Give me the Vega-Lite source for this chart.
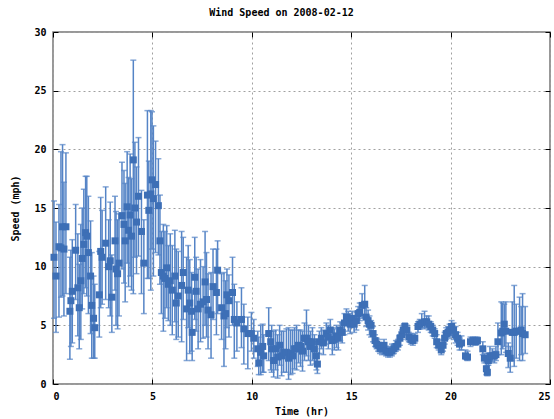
{
  "$schema": "https://vega.github.io/schema/vega-lite/v6.json",
  "width": 497,
  "height": 352,
  "autosize": {"type": "none"},
  "padding": {"left": 53, "top": 32, "right": 4, "bottom": 35},
  "background": "white",
  "title": {
    "text": "Wind Speed on 2008-02-12",
    "font": "DejaVu Sans Mono",
    "fontSize": 10,
    "fontWeight": "bold",
    "color": "#000000",
    "anchor": "middle",
    "dx": -20,
    "offset": 9
  },
  "config": {
    "view": {"stroke": "#777777", "strokeWidth": 1.5},
    "axis": {
      "labelFont": "DejaVu Sans Mono",
      "labelFontSize": 10,
      "labelFontWeight": "bold",
      "labelColor": "#000000",
      "titleFont": "DejaVu Sans Mono",
      "titleFontSize": 10,
      "titleFontWeight": "bold",
      "titleColor": "#000000",
      "domain": false,
      "tickColor": "#000000",
      "tickSize": -5,
      "tickWidth": 1,
      "gridColor": "#a0a0a0",
      "gridDash": [2, 3],
      "gridWidth": 1,
      "gridOpacity": 1
    }
  },
  "data": {
    "values": [
      {"t": 0.05, "v": 10.8, "lo": 5.6, "hi": 15.6},
      {"t": 0.15, "v": 9.2, "lo": 4.4, "hi": 13.8},
      {"t": 0.3, "v": 11.7, "lo": 5.7, "hi": 15.3},
      {"t": 0.4, "v": 11.6, "lo": 7.4, "hi": 19.8},
      {"t": 0.48, "v": 13.4, "lo": 7.5, "hi": 20.4},
      {"t": 0.55, "v": 11.5, "lo": 5.8, "hi": 17.2},
      {"t": 0.65, "v": 13.4, "lo": 7.7, "hi": 19.7},
      {"t": 0.85, "v": 6.2, "lo": 2.1, "hi": 10.8},
      {"t": 0.9, "v": 7.1, "lo": 3.2, "hi": 11.4},
      {"t": 0.97, "v": 7.9, "lo": 3.5, "hi": 12.3},
      {"t": 1.14, "v": 11.4, "lo": 7.2, "hi": 15.3},
      {"t": 1.25, "v": 8.2, "lo": 4.1, "hi": 12.8},
      {"t": 1.32, "v": 6.5, "lo": 3.0, "hi": 10.2},
      {"t": 1.4, "v": 8.8, "lo": 3.8, "hi": 13.6},
      {"t": 1.47, "v": 10.7, "lo": 6.4, "hi": 15.0},
      {"t": 1.55, "v": 11.9, "lo": 7.7, "hi": 16.6},
      {"t": 1.64, "v": 12.9, "lo": 8.2, "hi": 17.7},
      {"t": 1.7, "v": 12.6, "lo": 7.5, "hi": 17.7},
      {"t": 1.78, "v": 11.2, "lo": 6.0, "hi": 16.0},
      {"t": 1.89, "v": 9.2, "lo": 4.3, "hi": 13.9},
      {"t": 1.95, "v": 6.7, "lo": 2.2, "hi": 11.2},
      {"t": 2.04, "v": 5.6, "lo": 2.2, "hi": 9.2},
      {"t": 2.1, "v": 4.8, "lo": 2.2, "hi": 8.5},
      {"t": 2.33, "v": 7.6, "lo": 4.0, "hi": 11.3},
      {"t": 2.4, "v": 11.3, "lo": 6.5, "hi": 15.9},
      {"t": 2.47, "v": 10.8, "lo": 6.8, "hi": 14.8},
      {"t": 2.65, "v": 12.0, "lo": 7.2, "hi": 16.8},
      {"t": 2.8, "v": 10.0, "lo": 6.5, "hi": 14.0},
      {"t": 2.88, "v": 10.5, "lo": 5.8, "hi": 15.5},
      {"t": 2.96, "v": 7.4, "lo": 4.4, "hi": 11.0},
      {"t": 3.12, "v": 12.2, "lo": 8.0, "hi": 16.0},
      {"t": 3.17, "v": 9.8, "lo": 5.0, "hi": 14.7},
      {"t": 3.25, "v": 9.4, "lo": 4.7, "hi": 14.0},
      {"t": 3.32, "v": 10.3, "lo": 5.8, "hi": 14.5},
      {"t": 3.47, "v": 14.35, "lo": 9.8, "hi": 18.9},
      {"t": 3.57, "v": 13.6, "lo": 8.6, "hi": 18.2},
      {"t": 3.63, "v": 12.2, "lo": 7.0, "hi": 17.1},
      {"t": 3.73, "v": 15.1, "lo": 10.3, "hi": 19.8},
      {"t": 3.8, "v": 13.1, "lo": 8.3, "hi": 17.6},
      {"t": 3.88, "v": 14.4, "lo": 9.2, "hi": 19.6},
      {"t": 3.95, "v": 12.6, "lo": 8.0, "hi": 17.5},
      {"t": 4.04, "v": 19.1, "lo": 7.7, "hi": 27.6},
      {"t": 4.12, "v": 15.0, "lo": 10.8, "hi": 20.6},
      {"t": 4.2, "v": 13.8, "lo": 9.4, "hi": 18.5},
      {"t": 4.3, "v": 16.0, "lo": 10.9, "hi": 21.0},
      {"t": 4.45, "v": 13.0, "lo": 7.7, "hi": 16.5},
      {"t": 4.57, "v": 10.3, "lo": 6.0, "hi": 14.0},
      {"t": 4.75, "v": 16.1, "lo": 9.0, "hi": 23.3},
      {"t": 4.82, "v": 14.8, "lo": 9.0, "hi": 19.0},
      {"t": 4.92, "v": 16.2, "lo": 8.0, "hi": 23.3},
      {"t": 4.98, "v": 17.4, "lo": 11.5, "hi": 23.2},
      {"t": 5.05, "v": 15.8, "lo": 9.2, "hi": 22.0},
      {"t": 5.16, "v": 17.0, "lo": 11.2, "hi": 20.7},
      {"t": 5.3, "v": 15.2, "lo": 11.0, "hi": 19.2},
      {"t": 5.38, "v": 12.2, "lo": 8.5, "hi": 16.1},
      {"t": 5.45, "v": 9.5, "lo": 6.0, "hi": 13.0},
      {"t": 5.55, "v": 9.2, "lo": 4.5, "hi": 13.6},
      {"t": 5.63, "v": 9.0, "lo": 5.6, "hi": 13.0},
      {"t": 5.72, "v": 9.9, "lo": 6.5, "hi": 13.5},
      {"t": 5.8, "v": 8.5, "lo": 5.4, "hi": 11.8},
      {"t": 5.9, "v": 8.8, "lo": 5.0, "hi": 12.8},
      {"t": 6.0, "v": 8.0, "lo": 4.2, "hi": 11.8},
      {"t": 6.13, "v": 9.2, "lo": 5.3, "hi": 13.1},
      {"t": 6.2, "v": 6.9, "lo": 3.8, "hi": 11.5},
      {"t": 6.3, "v": 7.5, "lo": 4.0, "hi": 11.3},
      {"t": 6.47, "v": 8.4, "lo": 3.6, "hi": 13.0},
      {"t": 6.55, "v": 9.5, "lo": 5.5, "hi": 12.5},
      {"t": 6.72, "v": 6.4, "lo": 2.0, "hi": 10.8},
      {"t": 6.8, "v": 8.0, "lo": 4.8, "hi": 11.8},
      {"t": 6.88, "v": 6.9, "lo": 2.6, "hi": 10.6},
      {"t": 6.97, "v": 6.2, "lo": 2.8, "hi": 9.5},
      {"t": 7.0, "v": 4.4, "lo": 2.0, "hi": 8.0},
      {"t": 7.13, "v": 9.1, "lo": 5.5, "hi": 12.5},
      {"t": 7.2, "v": 7.9, "lo": 4.5, "hi": 10.8},
      {"t": 7.3, "v": 6.4, "lo": 3.0, "hi": 9.8},
      {"t": 7.42, "v": 6.8, "lo": 3.6, "hi": 10.6},
      {"t": 7.55, "v": 7.0, "lo": 3.9, "hi": 10.0},
      {"t": 7.65, "v": 8.7, "lo": 5.0, "hi": 13.0},
      {"t": 7.72, "v": 7.2, "lo": 4.0, "hi": 11.2},
      {"t": 7.8, "v": 6.3, "lo": 3.0, "hi": 9.4},
      {"t": 7.95, "v": 5.9, "lo": 2.2, "hi": 9.5},
      {"t": 8.05, "v": 8.3, "lo": 5.5, "hi": 11.5},
      {"t": 8.22, "v": 7.8, "lo": 4.2, "hi": 11.5},
      {"t": 8.28, "v": 9.7, "lo": 6.0, "hi": 12.2},
      {"t": 8.48, "v": 6.5, "lo": 3.8, "hi": 9.4},
      {"t": 8.6, "v": 5.8, "lo": 1.5, "hi": 9.5},
      {"t": 8.68, "v": 6.0, "lo": 3.0, "hi": 8.8},
      {"t": 8.75, "v": 7.6, "lo": 4.8, "hi": 9.8},
      {"t": 8.85, "v": 7.1, "lo": 4.0, "hi": 9.3},
      {"t": 9.03, "v": 7.8, "lo": 5.0, "hi": 10.8},
      {"t": 9.12, "v": 5.5, "lo": 2.2, "hi": 8.5},
      {"t": 9.25, "v": 5.2, "lo": 2.8, "hi": 7.0},
      {"t": 9.48, "v": 5.5, "lo": 3.1, "hi": 8.2},
      {"t": 9.6, "v": 4.7, "lo": 1.7, "hi": 6.8},
      {"t": 9.8, "v": 4.3, "lo": 1.3, "hi": 5.7},
      {"t": 9.98, "v": 4.3, "lo": 2.8, "hi": 6.1},
      {"t": 10.1, "v": 3.9, "lo": 2.2, "hi": 5.5},
      {"t": 10.3, "v": 3.0, "lo": 1.5, "hi": 4.5},
      {"t": 10.35, "v": 1.8, "lo": 0.8, "hi": 4.0},
      {"t": 10.45, "v": 2.7, "lo": 0.8, "hi": 5.0},
      {"t": 10.55, "v": 3.2, "lo": 1.0, "hi": 5.1},
      {"t": 10.6, "v": 2.4, "lo": 1.0, "hi": 4.2},
      {"t": 10.85, "v": 4.3, "lo": 2.0, "hi": 6.5},
      {"t": 10.95, "v": 3.6, "lo": 1.2, "hi": 4.5},
      {"t": 11.0, "v": 3.0, "lo": 1.0, "hi": 5.0},
      {"t": 11.1, "v": 2.0, "lo": 0.6, "hi": 4.5},
      {"t": 11.2, "v": 3.0, "lo": 1.2, "hi": 4.6},
      {"t": 11.3, "v": 2.3, "lo": 0.5, "hi": 4.2},
      {"t": 11.4, "v": 3.3, "lo": 1.6, "hi": 5.0},
      {"t": 11.5, "v": 2.4, "lo": 0.7, "hi": 4.5},
      {"t": 11.6, "v": 2.7, "lo": 1.0, "hi": 4.5},
      {"t": 11.74, "v": 2.7, "lo": 1.0, "hi": 4.7},
      {"t": 11.85, "v": 2.2, "lo": 0.4, "hi": 4.8},
      {"t": 11.95, "v": 2.6, "lo": 0.8, "hi": 4.6},
      {"t": 12.05, "v": 2.4, "lo": 0.9, "hi": 4.6},
      {"t": 12.15, "v": 3.0, "lo": 1.3, "hi": 4.8},
      {"t": 12.25, "v": 3.0, "lo": 1.2, "hi": 5.0},
      {"t": 12.35, "v": 3.3, "lo": 1.8, "hi": 4.6},
      {"t": 12.45, "v": 3.2, "lo": 1.5, "hi": 4.6},
      {"t": 12.55, "v": 2.8, "lo": 1.1, "hi": 4.5},
      {"t": 12.65, "v": 3.9, "lo": 2.0, "hi": 5.2},
      {"t": 12.75, "v": 3.9, "lo": 2.4, "hi": 6.3},
      {"t": 12.85, "v": 3.6, "lo": 2.0, "hi": 5.0},
      {"t": 12.95, "v": 3.2, "lo": 1.6, "hi": 4.5},
      {"t": 13.05, "v": 3.6, "lo": 2.0, "hi": 4.8},
      {"t": 13.15, "v": 3.0, "lo": 1.7, "hi": 4.2},
      {"t": 13.25, "v": 2.4, "lo": 1.2, "hi": 3.6},
      {"t": 13.3, "v": 1.7, "lo": 0.9, "hi": 2.6},
      {"t": 13.4, "v": 3.6, "lo": 2.6, "hi": 4.5},
      {"t": 13.5, "v": 3.9, "lo": 3.0, "hi": 4.8},
      {"t": 13.6, "v": 3.5, "lo": 2.5, "hi": 4.6},
      {"t": 13.75, "v": 4.3, "lo": 3.4, "hi": 5.2},
      {"t": 13.85, "v": 4.0, "lo": 3.0, "hi": 5.0},
      {"t": 13.95, "v": 4.6, "lo": 3.7, "hi": 5.5},
      {"t": 14.05, "v": 3.7, "lo": 2.5, "hi": 4.8},
      {"t": 14.15, "v": 3.8, "lo": 2.9, "hi": 4.7},
      {"t": 14.26, "v": 4.1, "lo": 3.1, "hi": 5.0},
      {"t": 14.35, "v": 3.9, "lo": 2.9, "hi": 4.8},
      {"t": 14.45, "v": 4.6, "lo": 3.7, "hi": 5.3},
      {"t": 14.55, "v": 4.4, "lo": 3.5, "hi": 5.2},
      {"t": 14.66, "v": 5.2, "lo": 4.2, "hi": 6.0},
      {"t": 14.76, "v": 5.7, "lo": 5.0, "hi": 6.4},
      {"t": 14.85, "v": 5.3, "lo": 4.5, "hi": 6.2},
      {"t": 14.95, "v": 5.1, "lo": 4.3, "hi": 6.0},
      {"t": 15.05, "v": 5.6, "lo": 4.8, "hi": 6.2},
      {"t": 15.15, "v": 5.1, "lo": 4.4, "hi": 5.8},
      {"t": 15.26, "v": 5.4, "lo": 4.6, "hi": 6.1},
      {"t": 15.35, "v": 6.0, "lo": 5.2, "hi": 6.6},
      {"t": 15.43, "v": 6.1, "lo": 5.4, "hi": 6.9},
      {"t": 15.55, "v": 6.7, "lo": 5.6, "hi": 7.7},
      {"t": 15.68, "v": 6.8, "lo": 5.8, "hi": 8.4},
      {"t": 15.75, "v": 5.7, "lo": 4.9, "hi": 6.5},
      {"t": 15.85, "v": 5.4, "lo": 4.6, "hi": 6.3},
      {"t": 15.92, "v": 5.1, "lo": 4.2, "hi": 5.8},
      {"t": 16.0, "v": 5.0, "lo": 4.0, "hi": 5.4},
      {"t": 16.1, "v": 4.3, "lo": 3.6, "hi": 4.9},
      {"t": 16.2, "v": 3.7, "lo": 3.2, "hi": 4.2},
      {"t": 16.28, "v": 3.4, "lo": 3.0, "hi": 3.9},
      {"t": 16.35, "v": 3.3, "lo": 2.8, "hi": 3.8},
      {"t": 16.45, "v": 3.0, "lo": 2.6, "hi": 3.4},
      {"t": 16.55, "v": 3.0, "lo": 2.5, "hi": 3.4},
      {"t": 16.65, "v": 3.3, "lo": 2.8, "hi": 3.8},
      {"t": 16.75, "v": 2.8, "lo": 2.4, "hi": 3.2},
      {"t": 16.85, "v": 2.7, "lo": 2.3, "hi": 3.1},
      {"t": 16.95, "v": 2.7, "lo": 2.3, "hi": 3.2},
      {"t": 17.05, "v": 2.8, "lo": 2.4, "hi": 3.4},
      {"t": 17.15, "v": 3.0, "lo": 2.6, "hi": 3.4},
      {"t": 17.25, "v": 3.2, "lo": 2.8, "hi": 3.7},
      {"t": 17.35, "v": 3.4, "lo": 2.9, "hi": 3.8},
      {"t": 17.45, "v": 3.9, "lo": 3.3, "hi": 4.2},
      {"t": 17.55, "v": 4.2, "lo": 3.8, "hi": 4.6},
      {"t": 17.62, "v": 4.6, "lo": 4.2, "hi": 5.0},
      {"t": 17.7, "v": 4.9, "lo": 4.5, "hi": 5.2},
      {"t": 17.8, "v": 4.6, "lo": 4.2, "hi": 5.0},
      {"t": 17.9, "v": 4.0, "lo": 3.6, "hi": 4.4},
      {"t": 18.0, "v": 3.8, "lo": 3.4, "hi": 4.3},
      {"t": 18.1, "v": 3.7, "lo": 3.3, "hi": 4.2},
      {"t": 18.2, "v": 3.9, "lo": 3.5, "hi": 4.3},
      {"t": 18.36, "v": 4.9, "lo": 4.4, "hi": 5.3},
      {"t": 18.45, "v": 5.1, "lo": 4.7, "hi": 5.5},
      {"t": 18.55, "v": 5.2, "lo": 4.8, "hi": 6.0},
      {"t": 18.69, "v": 5.3, "lo": 4.7, "hi": 6.2},
      {"t": 18.8, "v": 5.3, "lo": 4.8, "hi": 5.8},
      {"t": 18.9, "v": 5.1, "lo": 4.6, "hi": 5.8},
      {"t": 19.0, "v": 4.9, "lo": 4.4, "hi": 5.3},
      {"t": 19.1, "v": 4.6, "lo": 4.1, "hi": 5.0},
      {"t": 19.2, "v": 4.3, "lo": 3.9, "hi": 4.7},
      {"t": 19.3, "v": 3.6, "lo": 3.1, "hi": 4.2},
      {"t": 19.4, "v": 3.3, "lo": 2.9, "hi": 3.7},
      {"t": 19.53, "v": 2.9, "lo": 2.5, "hi": 3.4},
      {"t": 19.62, "v": 3.3, "lo": 2.8, "hi": 3.8},
      {"t": 19.7, "v": 3.9, "lo": 3.4, "hi": 4.4},
      {"t": 19.78, "v": 4.3, "lo": 3.8, "hi": 4.8},
      {"t": 19.87, "v": 4.4, "lo": 3.9, "hi": 4.9},
      {"t": 19.95, "v": 4.6, "lo": 4.0, "hi": 5.1},
      {"t": 20.05, "v": 4.9, "lo": 4.1, "hi": 5.4},
      {"t": 20.15, "v": 4.6, "lo": 3.8, "hi": 5.2},
      {"t": 20.25, "v": 4.2, "lo": 3.5, "hi": 4.9},
      {"t": 20.35, "v": 3.9, "lo": 3.3, "hi": 4.4},
      {"t": 20.45, "v": 3.4, "lo": 2.9, "hi": 3.9},
      {"t": 20.55, "v": 3.5, "lo": 2.9, "hi": 4.1},
      {"t": 20.75, "v": 2.4, "lo": 2.1, "hi": 2.9},
      {"t": 20.85, "v": 2.3, "lo": 2.0, "hi": 2.8},
      {"t": 21.0, "v": 3.6, "lo": 3.2, "hi": 4.0},
      {"t": 21.12, "v": 3.7, "lo": 3.4, "hi": 4.0},
      {"t": 21.25, "v": 3.6, "lo": 3.3, "hi": 4.0},
      {"t": 21.35, "v": 3.7, "lo": 3.4, "hi": 4.0},
      {"t": 21.62, "v": 3.0, "lo": 2.5, "hi": 3.6},
      {"t": 21.7, "v": 2.2, "lo": 1.8, "hi": 2.6},
      {"t": 21.8, "v": 1.3, "lo": 0.8, "hi": 1.8},
      {"t": 21.85, "v": 1.0, "lo": 0.7, "hi": 1.6},
      {"t": 21.9, "v": 2.0, "lo": 1.6, "hi": 2.6},
      {"t": 21.98, "v": 2.4, "lo": 2.0, "hi": 3.2},
      {"t": 22.1, "v": 2.4, "lo": 1.9, "hi": 3.0},
      {"t": 22.2, "v": 2.4, "lo": 1.8, "hi": 2.8},
      {"t": 22.28, "v": 2.5, "lo": 2.0, "hi": 3.2},
      {"t": 22.38, "v": 3.6, "lo": 2.5, "hi": 5.2},
      {"t": 22.55, "v": 4.35, "lo": 2.5, "hi": 7.0},
      {"t": 22.62, "v": 4.5, "lo": 3.0, "hi": 6.9},
      {"t": 22.7, "v": 5.1, "lo": 3.2, "hi": 6.8},
      {"t": 22.78, "v": 4.5, "lo": 2.7, "hi": 7.0},
      {"t": 22.9, "v": 2.6, "lo": 1.4, "hi": 3.5},
      {"t": 23.0, "v": 2.2, "lo": 1.0, "hi": 3.2},
      {"t": 23.1, "v": 4.4, "lo": 2.0, "hi": 7.0},
      {"t": 23.2, "v": 4.4, "lo": 1.5, "hi": 8.4},
      {"t": 23.3, "v": 4.5, "lo": 2.2, "hi": 6.8},
      {"t": 23.47, "v": 4.5, "lo": 2.0, "hi": 7.4},
      {"t": 23.55, "v": 4.6, "lo": 2.5, "hi": 6.6},
      {"t": 23.62, "v": 4.3, "lo": 2.0, "hi": 7.7},
      {"t": 23.75, "v": 4.2, "lo": 2.6, "hi": 6.6}
    ]
  },
  "layer": [
    {
      "mark": {"type": "rule", "color": "#5584c6", "strokeWidth": 1.5},
      "encoding": {
        "x": {
          "field": "t", "type": "quantitative",
          "scale": {"domain": [0, 25], "nice": false, "zero": false},
          "axis": {
            "orient": "bottom", "values": [0, 5, 10, 15, 20, 25], "grid": true,
            "labelPadding": 12, "title": "Time (hr)",
            "titleX": 248.5, "titleY": 27, "titleBaseline": "middle", "titleAlign": "center"
          }
        },
        "y": {
          "field": "lo", "type": "quantitative",
          "scale": {"domain": [0, 30], "nice": false},
          "axis": {
            "orient": "left", "values": [0, 5, 10, 15, 20, 25, 30], "grid": true,
            "labelPadding": 12, "title": "Speed (mph)",
            "titleX": -38, "titleY": 176, "titleAngle": 270, "titleBaseline": "middle", "titleAlign": "center"
          }
        },
        "y2": {"field": "hi"}
      }
    },
    {
      "mark": {"type": "tick", "orient": "horizontal", "color": "#5584c6", "size": 6, "thickness": 1.5},
      "encoding": {
        "x": {"field": "t", "type": "quantitative",
          "axis": {"orient": "top", "values": [0, 5, 10, 15, 20, 25], "grid": false, "labels": false, "title": null}},
        "y": {"field": "lo", "type": "quantitative",
          "axis": {"orient": "right", "values": [0, 5, 10, 15, 20, 25, 30], "grid": false, "labels": false, "title": null}}
      }
    },
    {
      "mark": {"type": "tick", "orient": "horizontal", "color": "#5584c6", "size": 6, "thickness": 1.5},
      "encoding": {
        "x": {"field": "t", "type": "quantitative", "axis": null},
        "y": {"field": "hi", "type": "quantitative", "axis": null}
      }
    },
    {
      "mark": {"type": "point", "shape": "square", "filled": true, "size": 49, "color": "#3d6fb6", "opacity": 1},
      "encoding": {
        "x": {"field": "t", "type": "quantitative", "axis": null},
        "y": {"field": "v", "type": "quantitative", "axis": null}
      }
    }
  ]
}
